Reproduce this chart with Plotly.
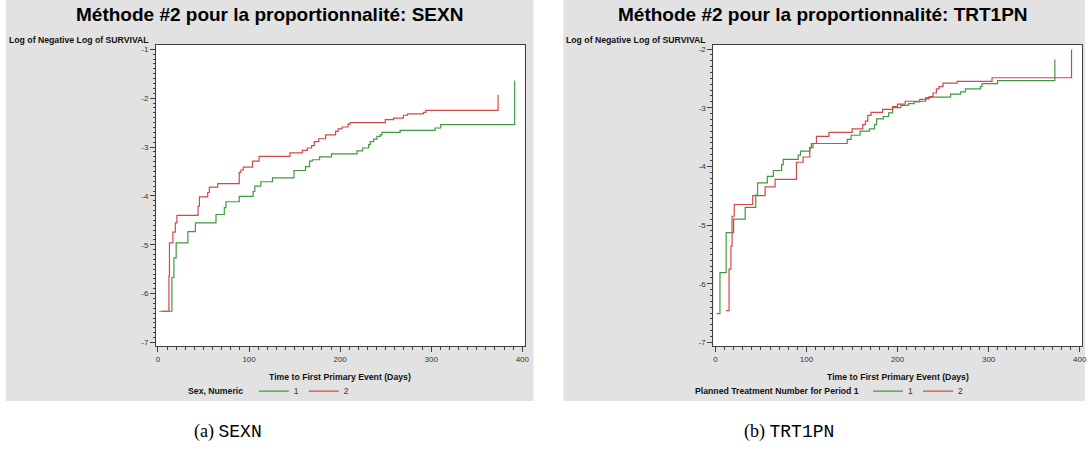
import plotly.graph_objects as go

W, H = 1087, 452

# ---------------- data ----------------
# Panel (a) SEXN : Log of negative log of survival vs time (days)
sexn_g1_t = [1.4, 15.3, 17.5, 20.0, 32.8, 41.1, 63.7, 72.8, 74.6, 89.2, 104.5, 106.3, 112.9,
             125.7, 149.3, 162.0, 166.4, 169.4, 177.4, 190.5, 218.6, 224.7, 231.3, 233.0,
             236.7, 240.4, 244.0, 245.9, 265.9, 304.2, 310.4, 391.6]
sexn_g1_v = [-6.36, -5.67, -5.27, -4.96, -4.73, -4.55, -4.38, -4.24, -4.12, -4.01, -3.91, -3.80,
             -3.71, -3.63, -3.48, -3.40, -3.29, -3.26, -3.20, -3.14, -3.08, -3.02, -2.95, -2.89,
             -2.84, -2.78, -2.75, -2.70, -2.66, -2.61, -2.54, -1.64]
sexn_g2_t = [4.7, 12.0, 12.6, 16.4, 19.0, 20.8, 44.0, 45.5, 54.6, 56.4, 65.6, 89.2, 91.0, 93.6,
             103.8, 111.0, 144.8, 158.5, 164.0, 168.6, 171.6, 176.6, 184.0, 195.0, 197.8, 202.0,
             208.7, 211.0, 249.5, 258.6, 269.5, 273.9, 291.4, 294.0, 373.4]
sexn_g2_v = [-6.36, -5.64, -4.96, -4.74, -4.55, -4.40, -4.21, -4.02, -3.93, -3.82, -3.75, -3.52,
             -3.47, -3.41, -3.29, -3.19, -3.12, -3.07, -3.02, -2.97, -2.89, -2.83, -2.75, -2.68,
             -2.63, -2.59, -2.53, -2.50, -2.44, -2.41, -2.35, -2.32, -2.29, -2.25, -1.93]

# Panel (b) TRT1PN
trt_g1_t = [1.4, 5.0, 11.8, 20.0, 32.7, 44.3, 46.3, 57.0, 63.6, 72.7, 74.5, 90.9, 93.4, 103.6,
            107.2, 144.7, 149.0, 158.9, 169.1, 174.6, 177.0, 184.4, 190.2, 194.6, 203.6, 212.0,
            218.2, 224.3, 230.9, 236.3, 258.2, 269.1, 274.5, 290.9, 292.7, 309.8, 372.7]
trt_g1_v = [-6.51, -5.81, -5.13, -4.90, -4.70, -4.49, -4.28, -4.17, -4.07, -3.97, -3.88, -3.81,
            -3.74, -3.68, -3.61, -3.54, -3.47, -3.40, -3.36, -3.29, -3.19, -3.15, -3.09, -3.00,
            -2.96, -2.93, -2.90, -2.86, -2.83, -2.82, -2.77, -2.73, -2.68, -2.64, -2.59, -2.54,
            -2.18]
trt_g2_t = [11.6, 15.0, 17.0, 18.3, 20.7, 41.0, 54.6, 65.5, 89.0, 96.3, 103.6, 105.4, 110.9,
            124.7, 150.2, 161.8, 164.7, 167.3, 170.9, 183.6, 194.6, 200.0, 208.4, 230.9, 234.6,
            238.9, 242.6, 245.5, 249.9, 265.5, 303.7, 391.0]
trt_g2_v = [-6.46, -5.75, -5.36, -4.85, -4.65, -4.50, -4.35, -4.22, -3.93, -3.84, -3.68, -3.61,
            -3.49, -3.42, -3.36, -3.29, -3.23, -3.13, -3.08, -3.03, -2.98, -2.94, -2.89, -2.85,
            -2.81, -2.75, -2.68, -2.64, -2.58, -2.55, -2.49, -2.01]

group_names = ["1", "2"]
x_ticks = [0, 100, 200, 300, 400]
y_ticks_a = [-7, -6, -5, -4, -3, -2, -1]
y_ticks_b = [-7, -6, -5, -4, -3, -2]

titles = ["Méthode #2 pour la proportionnalité: SEXN",
          "Méthode #2 pour la proportionnalité: TRT1PN"]
legend_titles = ["Sex, Numeric", "Planned Treatment Number for Period 1"]
y_title = "Log of Negative Log of SURVIVAL"
x_title = "Time to First Primary Event (Days)"
captions = [("(a) ", "SEXN"), ("(b) ", "TRT1PN")]

# ---------------- styling ----------------
GREEN = "#3f9a3f"
RED = "#d24848"
FRAME = "#404040"
SANS = "Liberation Sans, Arial, sans-serif"


def px(x):
    return x / W


def py(y):
    return 1 - y / H


fig = go.Figure()

series = [
    (sexn_g1_t, sexn_g1_v, GREEN, group_names[0], "x", "y", "legend"),
    (sexn_g2_t, sexn_g2_v, RED, group_names[1], "x", "y", "legend"),
    (trt_g1_t, trt_g1_v, GREEN, group_names[0], "x2", "y2", "legend2"),
    (trt_g2_t, trt_g2_v, RED, group_names[1], "x2", "y2", "legend2"),
]
for t, v, col, nm, xa, ya, lg in series:
    fig.add_trace(go.Scatter(x=t, y=v, mode="lines", name=nm,
                             line=dict(shape="hv", color=col, width=1.2),
                             xaxis=xa, yaxis=ya, legend=lg, hoverinfo="skip"))

ydom = [py(346.7), py(45)]
common_x = dict(range=[-2.2, 402.5], tickmode="array", tickvals=x_ticks,
                ticks="outside", ticklen=5, tickwidth=1, tickcolor=FRAME,
                showline=True, mirror=True, linecolor=FRAME, linewidth=1,
                showgrid=False, zeroline=False,
                tickfont=dict(family=SANS, size=8, color="#333333"),
                minor=dict(ticks="outside", ticklen=3, tickcolor=FRAME,
                           tickmode="linear", tick0=0, dtick=10, showgrid=False))
common_y = dict(tickmode="array", ticks="outside", ticklen=5, tickwidth=1, tickcolor=FRAME,
                showline=True, mirror=True, linecolor=FRAME, linewidth=1,
                showgrid=False, zeroline=False, domain=ydom,
                tickfont=dict(family=SANS, size=8, color="#333333"),
                minor=dict(ticks="outside", ticklen=2, tickcolor=FRAME,
                           tickmode="linear", tick0=0, dtick=0.1, showgrid=False))

fig.update_layout(
    width=W, height=H, margin=dict(l=0, r=0, t=0, b=0),
    paper_bgcolor="white", plot_bgcolor="white",
    xaxis=dict(domain=[px(156.7), px(527)], anchor="y", **common_x),
    yaxis=dict(range=[-7.07, -0.91], anchor="x", tickvals=y_ticks_a,
               ticktext=[str(v) for v in y_ticks_a], **common_y),
    xaxis2=dict(domain=[px(716.7), 1.0], anchor="y2", **common_x),
    yaxis2=dict(range=[-7.06, -1.93], anchor="x2", tickvals=y_ticks_b,
                ticktext=[str(v) for v in y_ticks_b], **common_y),
    showlegend=True,
)

leg_common = dict(orientation="h", xanchor="left", yanchor="middle", y=py(392),
                  bgcolor="rgba(0,0,0,0)", borderwidth=0,
                  font=dict(family=SANS, size=8.5, color="#333333"),
                  itemwidth=30, traceorder="normal", tracegroupgap=0)
fig.update_layout(
    legend=dict(x=px(255), **leg_common),
    legend2=dict(x=px(872), **leg_common),
)

# gray panel backgrounds, white plot areas
shapes = []
for x0, x1 in [(6, 536), (566, 1090)]:
    shapes.append(dict(type="rect", xref="paper", yref="paper", x0=px(x0), x1=px(x1),
                       y0=py(402), y1=py(0), fillcolor="#e2e2e2", line=dict(width=0),
                       layer="below"))
for xr, yr in [("x domain", "y domain"), ("x2 domain", "y2 domain")]:
    shapes.append(dict(type="rect", xref=xr, yref=yr, x0=0, x1=1, y0=0, y1=1,
                       fillcolor="white", line=dict(width=0), layer="below"))
fig.update_layout(shapes=shapes)

ann = []
for cx, txt in [(271, titles[0]), (827, titles[1])]:
    ann.append(dict(x=px(cx), y=py(15), xref="paper", yref="paper", text="<b>" + txt + "</b>",
                    showarrow=False, xanchor="center", yanchor="middle",
                    font=dict(family=SANS, size=19, color="black")))
for lx in [7.5, 566.5]:
    ann.append(dict(x=px(lx), y=py(40.5), xref="paper", yref="paper",
                    text="<b>" + y_title + "</b>", showarrow=False, xanchor="left",
                    yanchor="middle", font=dict(family=SANS, size=8.7, color="#111111")))
for cx in [342, 902]:
    ann.append(dict(x=px(cx), y=py(377.5), xref="paper", yref="paper",
                    text="<b>" + x_title + "</b>", showarrow=False, xanchor="center",
                    yanchor="middle", font=dict(family=SANS, size=8.7, color="#111111")))
for rx, txt in [(246, legend_titles[0]), (865, legend_titles[1])]:
    ann.append(dict(x=px(rx), y=py(392), xref="paper", yref="paper",
                    text="<b>" + txt + "</b>", showarrow=False, xanchor="right",
                    yanchor="middle", font=dict(family=SANS, size=8.7, color="#111111")))
for cx, (a, b) in zip([229, 793], captions):
    ann.append(dict(x=px(cx), y=py(432), xref="paper", yref="paper",
                    text=a + "<span style='font-family:Liberation Mono, DejaVu Sans Mono, monospace'>" + b + "</span>",
                    showarrow=False, xanchor="center", yanchor="middle",
                    font=dict(family="Liberation Serif, DejaVu Serif, serif", size=18, color="black")))
fig.update_layout(annotations=ann)

fig.write_html("out.html")
